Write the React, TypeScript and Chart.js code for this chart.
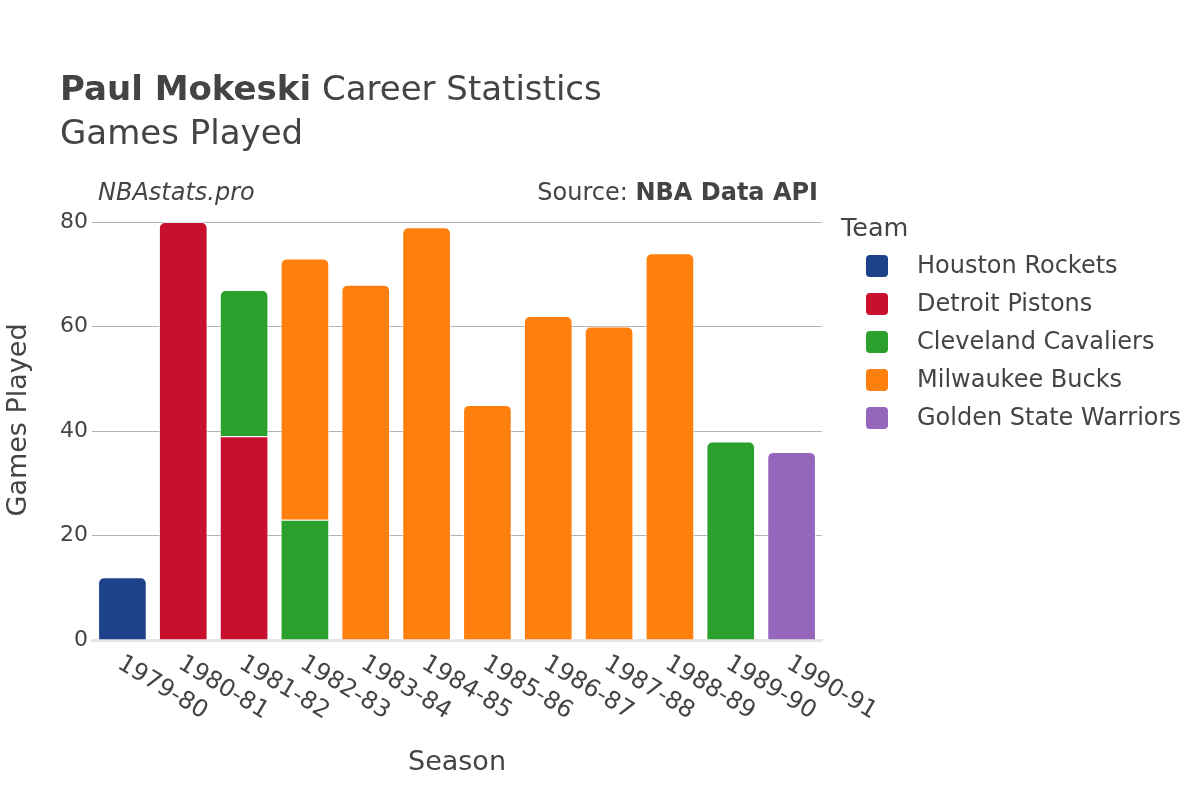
import React, { useEffect, useRef } from "react";
import { Chart, registerables } from "chart.js";

Chart.register(...registerables);

const FONT = "'DejaVu Sans', 'Liberation Sans', sans-serif";
const TEXT = "#444444";

const seasons = [
  "1979-80", "1980-81", "1981-82", "1982-83", "1983-84", "1984-85",
  "1985-86", "1986-87", "1987-88", "1988-89", "1989-90", "1990-91",
];

const houstonRockets = [12, null, null, null, null, null, null, null, null, null, null, null];
const detroitPistons = [null, 80, 39, null, null, null, null, null, null, null, null, null];
const clevelandCavaliers = [null, null, 28, 23, null, null, null, null, null, null, 38, null];
const milwaukeeBucks = [null, null, null, 50, 68, 79, 45, 62, 60, 74, null, null];
const goldenStateWarriors = [null, null, null, null, null, null, null, null, null, null, null, 36];

const teamNames = [
  "Houston Rockets",
  "Detroit Pistons",
  "Cleveland Cavaliers",
  "Milwaukee Bucks",
  "Golden State Warriors",
];
const teamColors = ["#1D428A", "#C8102E", "#2CA02C", "#FF7F0E", "#9467BD"];
const teamSeries = [houstonRockets, detroitPistons, clevelandCavaliers, milwaukeeBucks, goldenStateWarriors];

const yTickStep = 20;
const yMin = 0;
const yMax = 80;

const titleBold = "Paul Mokeski";
const titleRest = " Career Statistics";
const subtitle = "Games Played";
const watermark = "NBAstats.pro";
const sourceLabel = "Source: ";
const sourceName = "NBA Data API";
const xTitle = "Season";
const yTitle = "Games Played";
const legendTitle = "Team";

const decor = {
  id: "decor",
  afterDraw(chart: any) {
    const ctx: CanvasRenderingContext2D = chart.ctx;
    ctx.save();
    ctx.fillStyle = TEXT;
    ctx.textAlign = "left";
    ctx.textBaseline = "alphabetic";

    // Title
    ctx.font = `bold 34px ${FONT}`;
    ctx.fillText(titleBold, 60, 100);
    const wb = ctx.measureText(titleBold).width;
    ctx.font = `34px ${FONT}`;
    ctx.fillText(titleRest, 60 + wb, 100);
    ctx.fillText(subtitle, 60, 144);

    // Watermark & source
    ctx.font = `italic 24px ${FONT}`;
    ctx.fillText(watermark, 98, 200);
    ctx.font = `bold 24px ${FONT}`;
    const wn = ctx.measureText(sourceName).width;
    ctx.fillText(sourceName, 818 - wn, 200);
    ctx.font = `24px ${FONT}`;
    const ws = ctx.measureText(sourceLabel).width;
    ctx.fillText(sourceLabel, 818 - wn - ws, 200);

    // Axis titles
    const area = chart.chartArea;
    ctx.font = `27px ${FONT}`;
    ctx.textAlign = "center";
    ctx.fillText(xTitle, (area.left + area.right) / 2, 770);
    ctx.save();
    ctx.translate(26, 420);
    ctx.rotate(-Math.PI / 2);
    ctx.fillText(yTitle, 0, 0);
    ctx.restore();

    // X tick labels (rotated, starting at tick)
    const xs = chart.scales.x;
    ctx.font = `24px ${FONT}`;
    ctx.textAlign = "left";
    ctx.textBaseline = "middle";
    (chart.data.labels as string[]).forEach((lab, i) => {
      const px = xs.getPixelForValue(i);
      ctx.save();
      ctx.translate(px - 3, 662);
      ctx.rotate((31 * Math.PI) / 180);
      ctx.fillText(lab, 0, 0);
      ctx.restore();
    });

    // Legend
    ctx.textAlign = "left";
    ctx.textBaseline = "alphabetic";
    ctx.font = `25.5px ${FONT}`;
    ctx.fillText(legendTitle, 841, 236);
    ctx.font = `24px ${FONT}`;
    ctx.textBaseline = "middle";
    chart.data.datasets.forEach((ds: any, i: number) => {
      const cy = 266 + i * 38;
      ctx.fillStyle = ds.backgroundColor;
      ctx.beginPath();
      (ctx as any).roundRect(866, cy - 11, 22, 22, 4);
      ctx.fill();
      ctx.fillStyle = TEXT;
      ctx.fillText(ds.label, 917, cy + 1);
    });
    ctx.restore();
  },
};

export default function App() {
  const ref = useRef<HTMLCanvasElement>(null);

  useEffect(() => {
    document.body.style.margin = "0";
    Chart.defaults.font.family = FONT;
    const chart = new Chart(ref.current as HTMLCanvasElement, {
      type: "bar",
      data: {
        labels: seasons,
        datasets: teamNames.map((name, i) => ({
          label: name,
          data: teamSeries[i],
          backgroundColor: teamColors[i],
          borderColor: "rgba(255,255,255,0.7)",
          borderWidth: 1,
          borderRadius: 6,
          borderSkipped: "start",
          barPercentage: 0.8,
          categoryPercentage: 1.0,
        })),
      },
      options: {
        responsive: false,
        animation: false,
        devicePixelRatio: 1,
        layout: { padding: { left: 0, top: 222, right: 378, bottom: 0 } },
        plugins: {
          legend: { display: false },
          title: { display: false },
          tooltip: { enabled: false },
        },
        scales: {
          x: {
            stacked: true,
            grid: { display: false },
            border: { display: true, color: "#e6e6e6", width: 3 },
            ticks: { display: false },
            afterFit: (s: any) => {
              s.height = 160;
            },
          },
          y: {
            stacked: true,
            min: yMin,
            max: yMax,
            ticks: {
              stepSize: yTickStep,
              color: TEXT,
              font: { size: 22, family: FONT },
              padding: 4,
            },
            grid: {
              drawTicks: false,
              color: (c: any) => (c.tick && c.tick.value === 0 ? "rgba(0,0,0,0)" : "#b3b3b3"),
              lineWidth: 1,
            },
            border: { display: false },
            afterFit: (s: any) => {
              s.width = 92;
            },
          },
        },
      },
      plugins: [decor],
    } as any);
    return () => chart.destroy();
  }, []);

  return (
    <div style={{ width: 1200, height: 800 }}>
      <canvas ref={ref} width={1200} height={800} style={{ display: "block", width: 1200, height: 800 }} />
    </div>
  );
}
